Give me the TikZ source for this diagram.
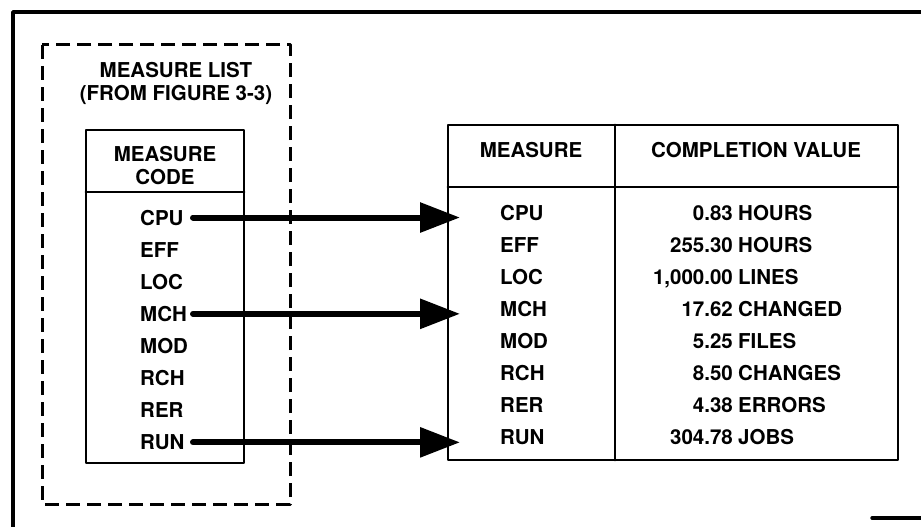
\documentclass[tikz,border=0pt]{standalone}
\usepackage{fontspec}
\setmainfont{TeX Gyre Heros}
\usetikzlibrary{arrows.meta, calc, positioning}
\tikzset{
  >={Triangle[length=40pt, width=29pt]},
  every picture/.style={line cap=round, line join=round},
  frame/.style={line width=3.4pt},
  tab/.style={line width=2.8pt},
  listbox/.style={line width=3pt, dash pattern=on 14pt off 7pt, line cap=butt},
  lbl/.style={font=\fontsize{20.5}{23}\selectfont\bfseries, inner sep=0pt},
  code/.style={lbl, anchor=base west},
  feed/.style={->, line width=6pt},
}
\begin{document}
\begin{tikzpicture}[x=1pt, y=-1pt]
  \useasboundingbox (0,0) rectangle (921,527);
  % outer frame (cut off at the right and bottom)
  \draw[frame] (13,527) -- (13,12) -- (921,12);
  \draw[frame] (872,518) -- (921,518);
  % measure list, dashed
  \draw[listbox] (42,45) rectangle (290,504);
  \node[lbl, align=center] (title) at (176,83) {MEASURE LIST\\(FROM FIGURE 3-3)};
  \draw[tab] (86,130) rectangle (244,463);
  \draw[tab] (86,192) -- (244,192);
  \node[lbl, align=center] (lhead) at (165,166) {MEASURE\\CODE};
  \foreach \m [count=\i] in {CPU,EFF,LOC,MCH,MOD,RCH,RER,RUN}
    \node[code] (l\m) at (140,{225+32.1*(\i-1)}) {\m};
  % completion values
  \coordinate (rtl) at (448,125);
  \coordinate (rbr) at (898,460);
  \draw[tab] (rtl) rectangle (rbr);
  \draw[tab] (448,187) -- (898,187);
  \draw[tab] (615,125) -- (615,460);
  \node[lbl] (rhead1) at (531,150) {MEASURE};
  \node[lbl] (rhead2) at (756,150) {COMPLETION VALUE};
  \foreach \m/\v/\u [count=\i] in {CPU/0.83/HOURS, EFF/255.30/HOURS, LOC/{1,000.00}/LINES,
      MCH/17.62/CHANGED, MOD/5.25/FILES, RCH/8.50/CHANGES, RER/4.38/ERRORS, RUN/304.78/JOBS}
  {
    \node[code] (r\m) at (500,{220+32*(\i-1)}) {\m};
    \node[lbl, anchor=base east] (v\m) at (733,{220+32*(\i-1)}) {\v};
    \node[code] (u\m) at (738,{220+32*(\i-1)}) {\u};
  }
  % arrows from the list to the table
  \coordinate (xs) at (193,0);
  \coordinate (xt) at (460,0);
  \foreach \m in {CPU,MCH,RUN}
    \draw[feed] (l\m.east -| xs) -- (l\m.east -| xt);
\end{tikzpicture}
\end{document}
